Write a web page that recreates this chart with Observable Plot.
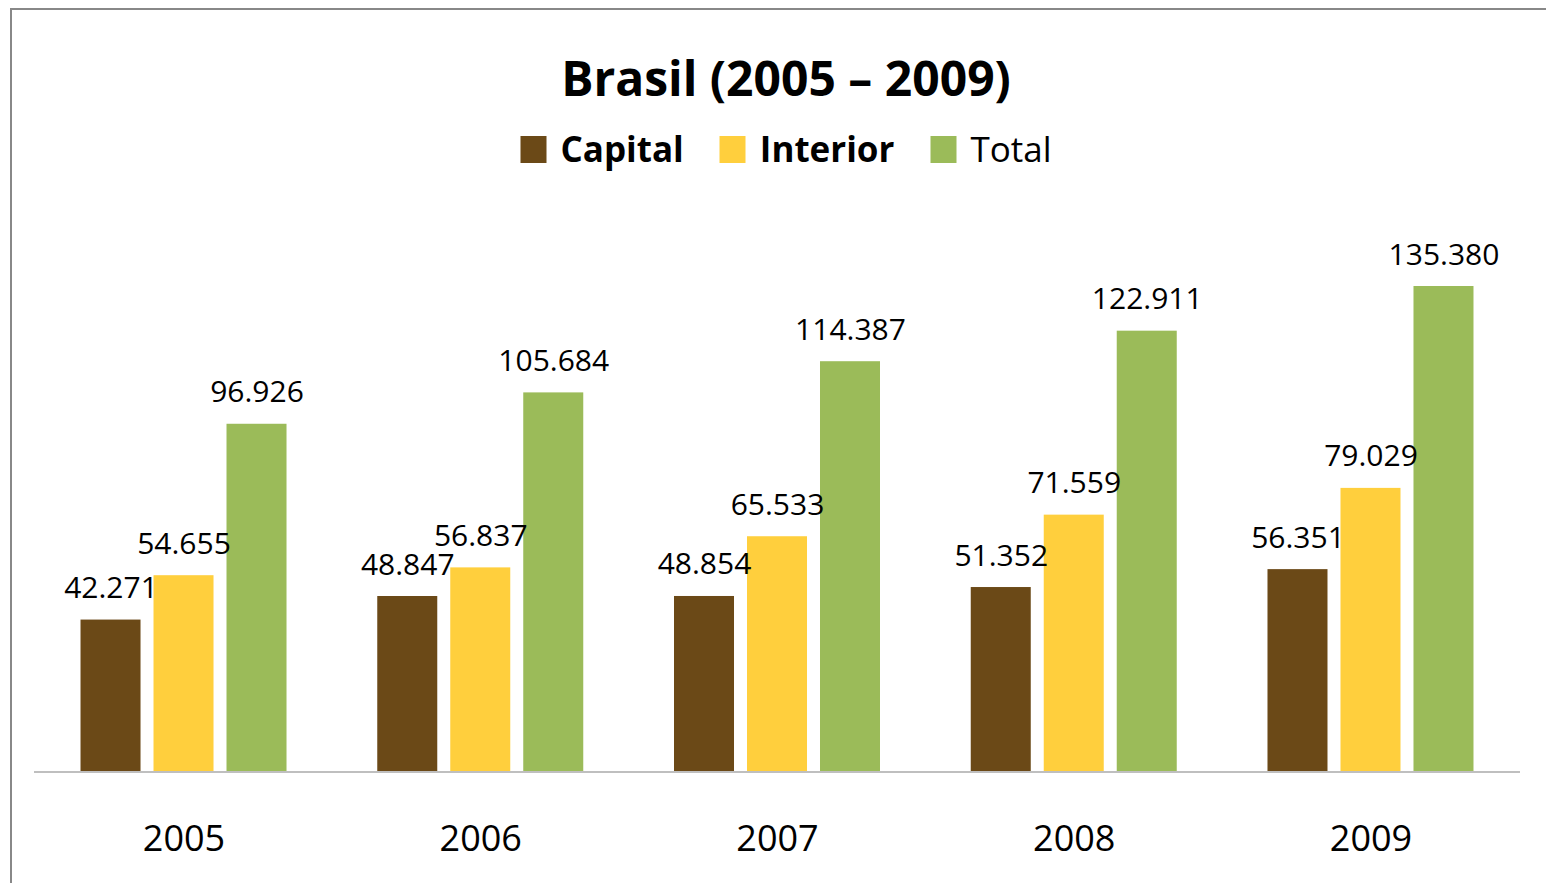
<!DOCTYPE html>
<html><head><meta charset="utf-8">
<script src="https://cdn.jsdelivr.net/npm/d3@7"></script>
<script src="https://cdn.jsdelivr.net/npm/@observablehq/plot@0.6"></script>
<style>
html,body{margin:0;padding:0;background:#fff;}
body{width:1546px;height:883px;overflow:hidden;position:relative;font-family:"Open Sans",sans-serif;color:#000;}
#frame{position:absolute;left:10px;top:8px;right:0;bottom:0;border-top:2px solid #888;border-left:2px solid #888;pointer-events:none;}
#title{position:absolute;left:786px;top:54px;transform:translateX(-50%);font-weight:700;font-size:48px;line-height:1;white-space:nowrap;}
#legend{position:absolute;left:786px;top:128px;transform:translateX(-50%);display:flex;align-items:center;white-space:nowrap;font-size:35px;line-height:1.2;}
.item{display:flex;align-items:center;margin-right:36px;}
.item:last-child{margin-right:0;}
.sw{width:26px;height:27px;margin-right:14px;}
#chart{position:absolute;left:0;top:180px;}
</style></head>
<body>
<div id="title">Brasil (2005 – 2009)</div>
<div id="legend"></div>
<div id="chart"></div>
<div id="frame"></div>
<script>
const years = ["2005", "2006", "2007", "2008", "2009"];
const series = ["Capital", "Interior", "Total"];
const capital = [42271, 48847, 48854, 51352, 56351];
const interior = [54655, 56837, 65533, 71559, 79029];
const total = [96926, 105684, 114387, 122911, 135380];
const colors = ["#6b4917", "#ffcf3d", "#9bbb59"];
const legendBold = [true, true, false];

const values = {Capital: capital, Interior: interior, Total: total};
const data = years.flatMap((y, i) => series.map(s => ({year: y, series: s, value: values[s][i]})));
const fmt = d3.formatLocale({decimal: ",", thousands: ".", grouping: [3], currency: ["R$", ""]}).format(",d");

const legend = document.getElementById("legend");
series.forEach((s, i) => {
  const it = document.createElement("div");
  it.className = "item";
  const sw = document.createElement("div");
  sw.className = "sw";
  sw.style.background = colors[i];
  const t = document.createElement("span");
  t.textContent = s;
  t.style.fontWeight = legendBold[i] ? "700" : "400";
  it.appendChild(sw); it.appendChild(t);
  legend.appendChild(it);
});

const chart = Plot.plot({
  width: 1546, height: 703,
  marginLeft: 36, marginRight: 28, marginTop: 0, marginBottom: 112,
  style: {fontFamily: "Open Sans", fontSize: "36px", color: "#000", background: "transparent", overflow: "visible"},
  fx: {domain: years, round: false, paddingInner: 0.3058, paddingOuter: 0.15, label: null, axis: "bottom", tickSize: 0, tickPadding: 54},
  x: {domain: series, round: false, paddingInner: 0.178, paddingOuter: 0, axis: null},
  y: {domain: [0, 164970], axis: null},
  color: {domain: series, range: colors},
  marks: [
    Plot.barY(data, {fx: "year", x: "series", y: "value", fill: "series"}),
    Plot.ruleY([0], {stroke: "#bfbfbf", strokeWidth: 2, insetLeft: -47, insetRight: -47, shapeRendering: "crispEdges"}),
    Plot.text(data, {fx: "year", x: "series", y: "value", text: d => fmt(d.value), lineAnchor: "bottom", dy: -22, fontSize: 30, fill: "#000"})
  ]
});
document.getElementById("chart").appendChild(chart);
</script>
</body></html>
